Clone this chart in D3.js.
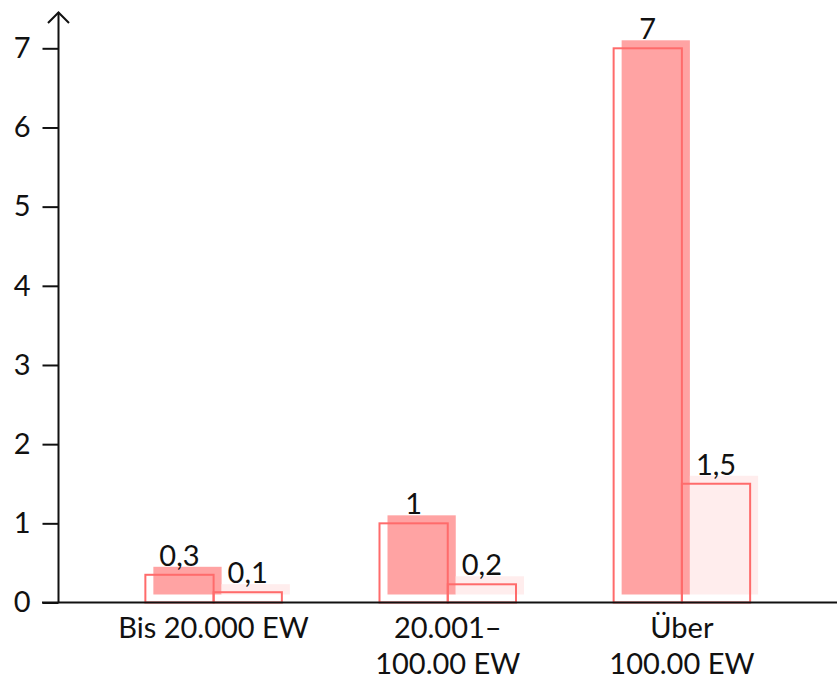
<!DOCTYPE html>
<html>
<head>
<meta charset="utf-8">
<script src="https://cdn.jsdelivr.net/npm/d3@7/dist/d3.min.js"></script>
<style>
  html, body { margin: 0; padding: 0; background: #fff; }
  svg { display: block; font-family: Lato, "Open Sans", sans-serif; }
</style>
</head>
<body>
<svg id="chart" width="837" height="681"></svg>
<script>
// ---- data ----
const categories = ["Bis 20.000 EW", "20.001–\n100.00 EW", "Über\n100.00 EW"];
const seriesNames = ["A", "B"];
const seriesA = [0.35, 1.0, 7.0];
const seriesB = [0.13, 0.23, 1.5];
const labelsA = ["0,3", "1", "7"];
const labelsB = ["0,1", "0,2", "1,5"];
const yTicks = [0, 1, 2, 3, 4, 5, 6, 7];

// ---- layout ----
const W = 837, H = 681;
const axisX = 58.5, baseY = 602.5, topY = 48.3;
const svg = d3.select("#chart");

const x0 = d3.scaleBand().domain(categories).range([axisX, W])
  .paddingInner(0.417).paddingOuter(0.371);
const x1 = d3.scaleBand().domain(seriesNames).range([0, x0.bandwidth()]);
const y = d3.scaleLinear().domain([0, 7]).range([baseY, topY]);

const fills = { A: "#ffa3a3", B: "#ffeded" };
const strokeCol = "#ff6b6b";
const off = 8;

const rows = [];
categories.forEach((c, i) => {
  rows.push({ cat: c, s: "A", v: seriesA[i], lab: labelsA[i] });
  rows.push({ cat: c, s: "B", v: seriesB[i], lab: labelsB[i] });
});

// offset fill rects
svg.append("g").selectAll("rect").data(rows).join("rect")
  .attr("x", d => x0(d.cat) + x1(d.s) + off)
  .attr("y", d => y(d.v) - off)
  .attr("width", x1.bandwidth())
  .attr("height", d => baseY - y(d.v))
  .attr("fill", d => fills[d.s]);

// outline rects
svg.append("g").selectAll("rect").data(rows).join("rect")
  .attr("x", d => x0(d.cat) + x1(d.s))
  .attr("y", d => y(d.v))
  .attr("width", x1.bandwidth())
  .attr("height", d => baseY - y(d.v))
  .attr("fill", "none")
  .attr("stroke", strokeCol)
  .attr("stroke-width", 2);

// value labels
svg.append("g").selectAll("text").data(rows).join("text")
  .attr("x", d => x0(d.cat) + x1(d.s) + x1.bandwidth() / 2)
  .attr("y", d => y(d.v) - 9)
  .attr("text-anchor", "middle")
  .attr("font-size", 29)
  .attr("fill", "#111")
  .text(d => d.lab);

// y axis
const yAxis = d3.axisLeft(y).tickValues(yTicks).tickSize(16).tickPadding(12)
  .tickFormat(d3.format("d"));
const gy = svg.append("g").attr("transform", `translate(${axisX},0)`).call(yAxis);
gy.select(".domain").remove();
gy.selectAll(".tick line").attr("stroke", "#111").attr("stroke-width", 2);
gy.selectAll(".tick text").attr("font-size", 29).attr("fill", "#111")
  .attr("font-family", "Lato, sans-serif");

// y axis line with arrow
svg.append("line").attr("x1", axisX).attr("x2", axisX)
  .attr("y1", baseY).attr("y2", 12.5)
  .attr("stroke", "#111").attr("stroke-width", 2);
svg.append("path")
  .attr("d", `M${axisX - 10.5},${23} L${axisX},${12.5} L${axisX + 10.5},${23}`)
  .attr("fill", "none").attr("stroke", "#111").attr("stroke-width", 2);

// x axis
const xAxis = d3.axisBottom(x0).tickSize(0).tickPadding(0).tickFormat("");
const gx = svg.append("g").attr("transform", `translate(0,${baseY})`).call(xAxis);
gx.select(".domain").remove();
svg.append("line").attr("x1", 42).attr("x2", W)
  .attr("y1", baseY).attr("y2", baseY)
  .attr("stroke", "#111").attr("stroke-width", 2);

gx.selectAll(".tick").each(function(d) {
  const t = d3.select(this).append("text")
    .attr("text-anchor", "middle")
    .attr("font-size", 29)
    .attr("fill", "#111")
    .attr("font-family", "Lato, sans-serif");
  d.split("\n").forEach((line, i) => {
    t.append("tspan").attr("x", 0).attr("y", 35.5 + i * 35.5).text(line);
  });
});
</script>
</body>
</html>
